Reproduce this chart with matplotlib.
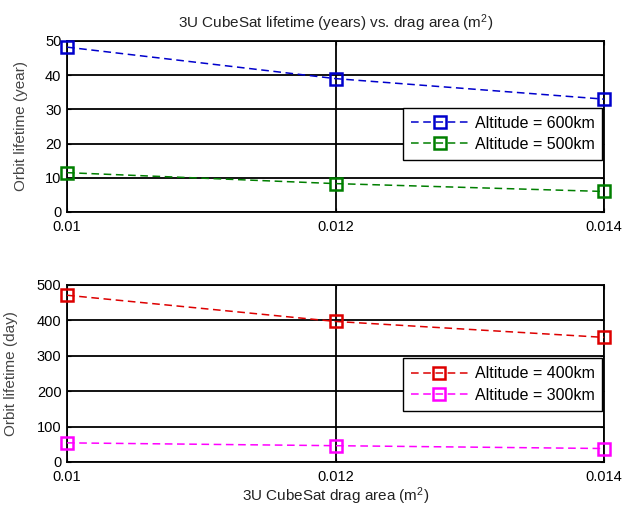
import numpy as np
import matplotlib
matplotlib.use('Agg')
import matplotlib.pyplot as plt

# drag area (m^2)
area = [0.01, 0.012, 0.014]

# lifetime in years
life_600 = [48.2, 39.0, 33.0]
life_500 = [11.5, 8.3, 6.0]

# lifetime in days
life_400 = [471, 397, 352]
life_300 = [54, 46, 38]

plt.rcParams['font.family'] = ['Liberation Sans', 'DejaVu Sans']
plt.rcParams['mathtext.default'] = 'regular'


def style_ax(ax, ymax, ystep):
    ax.set_xlim(0.01, 0.014)
    ax.set_ylim(0, ymax)
    ax.set_xticks(area)
    ax.set_xticklabels(['0.01', '0.012', '0.014'])
    ax.set_yticks(np.arange(0, ymax + 1, ystep))
    ax.tick_params(direction='in', length=3, top=True, right=True, labelsize=10.5)
    ax.tick_params(axis='x', pad=6)
    ax.tick_params(axis='y', pad=4)
    ax.grid(True, color='black', linestyle='-', linewidth=1.3)
    for s in ax.spines.values():
        s.set_linewidth(1.3)


def series(ax, y, col, lab):
    ax.plot(area, y, linestyle='--', dashes=(5, 3), marker='s', color=col, mfc='none',
            ms=8, mew=1.8, lw=1.1, label=lab, clip_on=False, zorder=3)


def legend(ax, ytop):
    leg = ax.legend(loc='upper right', bbox_to_anchor=(0.997, ytop), fontsize=11.5, fancybox=False,
                    edgecolor='black', framealpha=1, borderpad=0.5, handlelength=3.6,
                    handletextpad=0.4, labelspacing=0.4, borderaxespad=0)
    leg.get_frame().set_linewidth(1.0)


fig = plt.figure(figsize=(6.24, 5.08), dpi=100)

ax1 = fig.add_axes([0.1074, 0.5827, 0.8606, 0.3366])
series(ax1, life_600, '#0000cc', 'Altitude = 600km')
series(ax1, life_500, '#007f00', 'Altitude = 500km')
style_ax(ax1, 50, 10)
ax1.set_ylabel('Orbit lifetime (year)', fontsize=11, color='#444444')
ax1.yaxis.set_label_coords(-0.073, 0.5)
ax1.set_title('3U CubeSat lifetime (years) vs. drag area (m$^2$)', fontsize=11, color='#222222', pad=9)
legend(ax1, 0.61)

ax2 = fig.add_axes([0.1074, 0.0906, 0.8606, 0.3484])
series(ax2, life_400, '#dd0000', 'Altitude = 400km')
series(ax2, life_300, '#ff00ff', 'Altitude = 300km')
style_ax(ax2, 500, 100)
ax2.set_ylabel('Orbit lifetime (day)', fontsize=11, color='#444444')
ax2.yaxis.set_label_coords(-0.091, 0.5)
ax2.set_xlabel('3U CubeSat drag area (m$^2$)', fontsize=11, color='#222222', labelpad=1)
legend(ax2, 0.585)

fig.savefig('out.png', dpi=100)
